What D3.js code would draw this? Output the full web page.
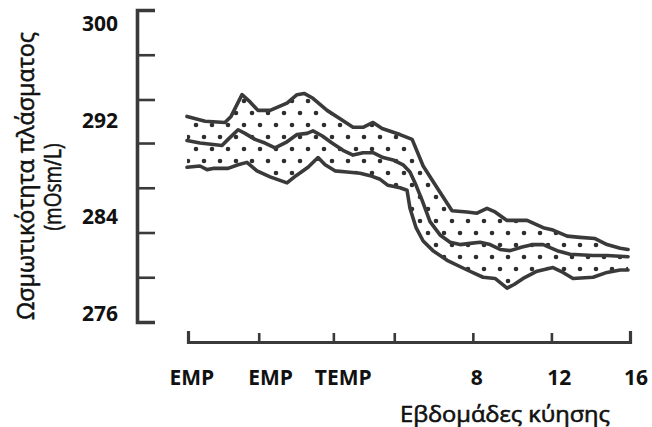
<!DOCTYPE html>
<html>
<head>
<meta charset="utf-8">
<script src="https://cdn.jsdelivr.net/npm/d3@7"></script>
<style>
  body { margin: 0; background: #fff; }
  svg { display: block; }
  text { font-family: "Open Sans", "Noto Sans", sans-serif; fill: #111; }
  .title { stroke: #111; stroke-width: 0.6px; }
</style>
</head>
<body>
<div id="app"></div>
<script>
// weeks of gestation (negative = cycles before conception) and plasma osmolality
const upperWeek = [-6.55, -5.63, -4.62, -4.31, -3.75, -3.34, -2.94, -2.32, -1.46, -0.95, -0.59, -0.14, 0.58, 1.24, 1.9, 2.41, 2.92, 3.38, 4.29, 4.91, 5.47, 6.18, 6.94, 7.71, 8.21, 8.72, 9.13, 9.74, 10.25, 10.76, 11.58, 12.08, 12.8, 13.46, 14.22, 14.83, 15.5, 15.9];
const upperOsm = [292.3, 291.9, 291.8, 292.3, 294.1, 293.5, 292.8, 292.8, 293.4, 294.1, 294.2, 293.8, 292.8, 292.1, 291.4, 291.4, 291.8, 291.3, 290.8, 290.4, 288.2, 286.4, 284.5, 284.4, 284.3, 284.7, 284.4, 283.7, 283.7, 283.7, 283.1, 282.9, 282.4, 282.3, 282.2, 281.7, 281.4, 281.3];

const meanWeek = [-6.55, -5.89, -4.77, -4.46, -3.95, -3.6, -3.09, -2.58, -2.07, -1.46, -0.95, -0.44, -0.14, 0.32, 0.83, 1.39, 1.9, 2.41, 2.92, 3.43, 3.94, 4.45, 4.8, 5.11, 5.41, 5.82, 6.33, 6.84, 7.35, 7.86, 8.37, 8.88, 9.39, 9.9, 10.51, 11.07, 11.58, 12.29, 12.95, 14.12, 14.83, 15.9];
const meanOsm = [290.3, 290.1, 289.9, 290.4, 291.2, 290.9, 290.4, 290.1, 289.7, 290.2, 290.8, 290.9, 291.1, 290.7, 290.1, 289.5, 289.1, 289.3, 289.3, 288.9, 288.7, 288.3, 287.7, 286.6, 285.4, 283.6, 282.5, 281.9, 281.7, 281.8, 281.9, 281.7, 281.3, 281.2, 281.5, 281.7, 281.7, 281.2, 280.9, 280.8, 280.8, 280.7];

const lowerWeek = [-6.55, -5.89, -5.53, -5.23, -4.46, -3.95, -3.5, -2.99, -2.32, -1.46, -1.0, -0.39, 0.12, 0.48, 0.98, 1.6, 2.26, 2.77, 3.28, 3.68, 4.29, 4.65, 4.8, 5.11, 5.47, 5.97, 6.69, 7.71, 8.52, 9.13, 9.74, 10.1, 10.56, 11.27, 12.08, 12.59, 13.1, 14.12, 14.83, 15.5, 15.9];
const lowerOsm = [288.1, 288.2, 287.9, 288.0, 288.0, 288.3, 288.5, 287.8, 287.3, 286.8, 287.4, 288.1, 288.9, 288.3, 287.8, 287.7, 287.6, 287.4, 287.1, 286.6, 286.4, 286.2, 284.7, 283.1, 282.0, 281.2, 280.4, 279.6, 279.0, 278.9, 278.1, 278.4, 278.9, 279.5, 279.8, 279.4, 278.9, 279.0, 279.4, 279.6, 279.6];

const yLabels = [300, 292, 284, 276];
const yTickValues = [301.1, 297.4, 293.7, 290.1, 286.4, 282.7, 279.0, 275.3];
const xTickWeeks = [-6.5, -2.9, 0.9, 4, 8, 12, 16];
const xLabels = ["EMP", "EMP", "TEMP", "8", "12", "16"];
const xLabelWeeks = [-6.3, -2.3, 1.4, 8.2, 12.4, 16.3];

const width = 652;
const height = 427;
const ink = "#3a3a3a";

const svg = d3.select("#app").append("svg")
  .attr("width", width)
  .attr("height", height);

const x = d3.scaleLinear().domain([-6.5, 16]).range([188, 630]);
const y = d3.scaleLinear().domain([275.3, 301.1]).range([322, 10]);

// dotted fill pattern
const pat = svg.append("defs").append("pattern")
  .attr("id", "dots")
  .attr("patternUnits", "userSpaceOnUse")
  .attr("width", 16)
  .attr("height", 24);
pat.append("circle").attr("cx", 4).attr("cy", 5).attr("r", 2.3).attr("fill", "#2e2e2e");
pat.append("circle").attr("cx", 12).attr("cy", 17).attr("r", 2.3).attr("fill", "#2e2e2e");

const upper = upperWeek.map((w, i) => [w, upperOsm[i]]);
const mean = meanWeek.map((w, i) => [w, meanOsm[i]]);
const lower = lowerWeek.map((w, i) => [w, lowerOsm[i]]);

const line = d3.line().x(d => x(d[0])).y(d => y(d[1]));

svg.append("path")
  .attr("d", line(upper.concat(lower.slice().reverse())) + "Z")
  .attr("fill", "url(#dots)")
  .attr("stroke", "none");

[upper, mean, lower].forEach(s => {
  svg.append("path")
    .attr("d", line(s))
    .attr("fill", "none")
    .attr("stroke", ink)
    .attr("stroke-width", 3.6)
    .attr("stroke-linejoin", "round")
    .attr("stroke-linecap", "round");
});

// y axis (bracket with ticks pointing right)
const gy = svg.append("g")
  .attr("transform", "translate(137,0)")
  .call(d3.axisRight(y).tickValues(yTickValues).tickSize(18).tickFormat(""));
gy.select(".domain").attr("stroke", ink).attr("stroke-width", 3.6);
gy.selectAll(".tick line").attr("stroke", ink).attr("stroke-width", 2.6);

svg.selectAll(".ylab")
  .data(yLabels)
  .enter()
  .append("text")
  .attr("class", "ylab")
  .attr("x", 118)
  .attr("y", d => y(d))
  .attr("dy", "0.36em")
  .attr("text-anchor", "end")
  .style("font-size", "21px")
  .style("font-weight", "bold")
  .text(d => d);

// x axis (ticks pointing up)
const gx = svg.append("g")
  .attr("transform", "translate(0,342)")
  .call(d3.axisBottom(x).tickValues(xTickWeeks).tickSizeInner(-9).tickSizeOuter(-11).tickFormat(""));
gx.select(".domain").attr("stroke", ink).attr("stroke-width", 3.2);
gx.selectAll(".tick line").attr("stroke", ink).attr("stroke-width", 2.6);
gx.selectAll(".tick text").remove();

svg.selectAll(".xlab")
  .data(xLabels)
  .enter()
  .append("text")
  .attr("class", "xlab")
  .attr("x", (d, i) => x(xLabelWeeks[i]))
  .attr("y", 385)
  .attr("text-anchor", "middle")
  .style("font-size", "21px")
  .style("font-weight", "bold")
  .text(d => d);

svg.append("text")
  .attr("class", "title")
  .attr("x", 505)
  .attr("y", 422)
  .attr("text-anchor", "middle")
  .attr("textLength", 210)
  .attr("lengthAdjust", "spacingAndGlyphs")
  .style("font-size", "22px")
  .text("Εβδομάδες κύησης");

svg.append("text")
  .attr("class", "title")
  .attr("transform", "rotate(-90)")
  .attr("x", -176)
  .attr("y", 34)
  .attr("text-anchor", "middle")
  .attr("textLength", 288)
  .attr("lengthAdjust", "spacingAndGlyphs")
  .style("font-size", "24px")
  .text("Ωσμωτικότητα πλάσματος");

svg.append("text")
  .attr("class", "title")
  .attr("transform", "rotate(-90)")
  .attr("x", -187)
  .attr("y", 61)
  .attr("text-anchor", "middle")
  .attr("textLength", 87)
  .attr("lengthAdjust", "spacingAndGlyphs")
  .style("font-size", "24px")
  .text("(mOsm/L)");
</script>
</body>
</html>
